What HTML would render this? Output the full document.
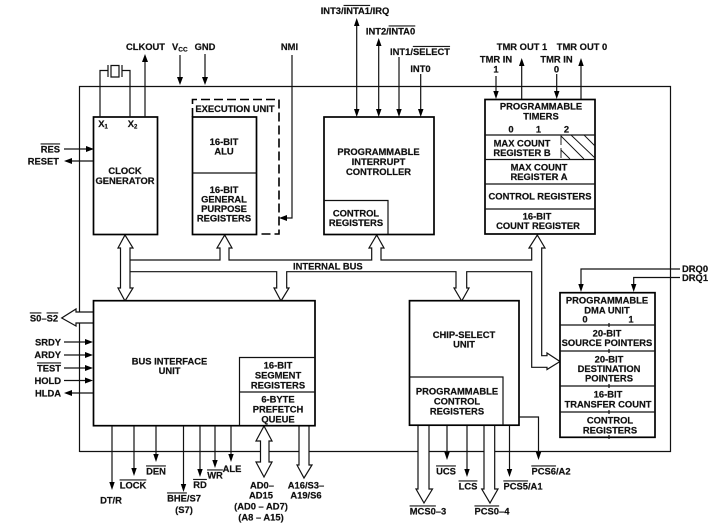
<!DOCTYPE html>
<html><head><meta charset="utf-8"><title>80186 Block Diagram</title>
<style>
html,body{margin:0;padding:0;background:#fff;width:721px;height:527px;overflow:hidden}
svg{display:block}
text{font-family:"Liberation Sans",sans-serif;font-weight:bold;font-size:9.4px;fill:#111;stroke:#111;stroke-width:.2px;text-anchor:middle}
.s{text-anchor:start}.e{text-anchor:end}
.o{text-decoration:overline}
.l{fill:none;stroke:#111;stroke-width:1.2}
.b{fill:#fff;stroke:#000;stroke-width:1.7}
.h{fill:#fff;stroke:#111;stroke-width:1.2}
.a{fill:#000;stroke:none}
</style></head><body>
<svg width="721" height="527" viewBox="0 0 721 527" xmlns="http://www.w3.org/2000/svg">
<!-- outer chip border -->
<path class="l" d="M79.5 452V86.5H670.5V451.5H79.5"/>

<!-- hollow bus arrows -->
<path class="h" d="M120.5 288V248H118L125 235L133 248H130V288H133L125 301L118 288Z"/>
<path class="l" d="M130 260H220V248H217L224.7 235L232 248H229V260H371.7V248H369L376.7 235L384 248H381V260H531.7V248H529L537.3 235L545 248H541.7V355.7H547V353L560 361.5L547 369.5V367.3H531.7V271.7H466.7V288H469L461.7 301L454 288H456V271.7H286.7V288H289L281 301L274 288H276.7V271.7H130"/>
<!-- S0-S2 -->
<path class="h" d="M93.5 312H76V309L61.7 318L76 326V323H93.5"/>
<!-- AD -->
<path class="h" d="M260.5 441H256L264 426L272 441H269V462H272L264 477L256 462H260.5Z"/>
<!-- A16 -->
<path class="h" d="M299 426V465H297L304 478L312 465H309V426"/>
<!-- MCS -->
<path class="h" d="M418 426V489H416L424 503L432.5 489H429V426"/>
<!-- PCS0-4 -->
<path class="h" d="M484 426V489H481.7L490 503L498 489H494.7V426"/>

<!-- clock generator -->
<rect class="b" x="93.5" y="117" width="64" height="117.5"/>
<!-- Execution unit -->
<path d="M192.5 117V99.5H279V234H258" fill="none" stroke="#000" stroke-width="1.6" stroke-dasharray="9 4"/>
<rect class="b" x="192.5" y="117" width="64" height="117.5"/>
<path class="l" d="M192.5 173H256.5"/>
<!-- PIC -->
<rect class="b" x="324" y="117" width="110" height="117.5"/>
<path class="l" d="M324 200.5H388V234"/>
<!-- Timers -->
<rect class="b" x="485" y="99.5" width="110" height="134.5"/>
<path class="l" d="M485 135H595M485 159.5H595M485 184H595M485 209H595"/>
<path d="M561 135V159.5" fill="none" stroke="#222" stroke-width="1" stroke-dasharray="10 3"/>
<path d="M561 136L584 159M571 135L595 158M584 135L595 146M561 150L570 159" fill="none" stroke="#111" stroke-width=".9"/>
<!-- BIU -->
<rect class="b" x="93.5" y="300.7" width="221.5" height="125"/>
<path class="l" d="M239.5 425V357.5H315M239.5 392H315"/>
<!-- Chip select -->
<rect class="b" x="409.5" y="300.7" width="109.5" height="124.5"/>
<path class="l" d="M409.5 377H503V425"/>
<!-- DMA -->
<rect class="b" x="560" y="292.7" width="95" height="144.6"/>
<path class="l" d="M560 325H655M560 351H655M560 386H655M560 412H655"/>
<path class="l" d="M609 323V327M609 349V353M609 384V388M609 410V414M609 435V439"/>

<!-- crystal -->
<path class="l" d="M100 117V70.5H108M108 65V77M111 65.5H119V77H111ZM122 65V77M122 70.5H130V117"/>
<!-- clkout -->
<path class="l" d="M145 117V58"/><path class="a" d="M145 54L142 62H148Z"/>
<path class="l" d="M180 55V80"/><path class="a" d="M180 85L177 77H183Z"/>
<path class="l" d="M205 54V80"/><path class="a" d="M205 85L202 77H208Z"/>
<!-- NMI -->
<path class="l" d="M292 55V218H285"/><path class="a" d="M279 218L287 215V221Z"/>
<!-- RES RESET -->
<path class="l" d="M64 149H88"/><path class="a" d="M94 149L86 146V152Z"/>
<path class="l" d="M93 161H70"/><path class="a" d="M64 161L72 158V164Z"/>
<!-- INT -->
<path class="l" d="M356.7 22V112"/><path class="a" d="M356.7 18L354 26H359.5ZM356.7 117L354 109H359.5Z"/>
<path class="l" d="M378.7 42V112"/><path class="a" d="M378.7 38L376 46H381.5ZM378.7 117L376 109H381.5Z"/>
<path class="l" d="M399 57V112"/><path class="a" d="M399 117L396.3 109H401.7Z"/>
<path class="l" d="M420.7 74V112"/><path class="a" d="M420.7 117L418 109H423.5Z"/>
<!-- TMR -->
<path class="l" d="M496 76V94"/><path class="a" d="M496 99L493.3 91H498.7Z"/>
<path class="l" d="M521.7 99V62"/><path class="a" d="M521.7 58L519 66H524.5Z"/>
<path class="l" d="M556.7 74V94"/><path class="a" d="M556.7 99L554 91H559.5Z"/>
<path class="l" d="M581 99V62"/><path class="a" d="M581 58L578.3 66H583.7Z"/>
<!-- DRQ -->
<path class="l" d="M680 269H581V285"/><path class="a" d="M581 292L578.3 284H583.7Z"/>
<path class="l" d="M680 277.5H633.7V285"/><path class="a" d="M633.7 292L631 284H636.4Z"/>
<!-- left pins -->
<path class="l" d="M64 342H87"/><path class="a" d="M93 342L85 339V345Z"/>
<path class="l" d="M64 355H87"/><path class="a" d="M93 355L85 352V358Z"/>
<path class="l" d="M64 368H87"/><path class="a" d="M93 368L85 365V371Z"/>
<path class="l" d="M64 380.5H87"/><path class="a" d="M93 380.5L85 377.5V383.5Z"/>
<path class="l" d="M93 393H70"/><path class="a" d="M64 393L72 390V396Z"/>
<!-- bottom pins -->
<path class="l" d="M112 426V485"/><path class="a" d="M112 490L109.3 482H114.7Z"/>
<path class="l" d="M134 426V471"/><path class="a" d="M134 476L131.3 468H136.7Z"/>
<path class="l" d="M156 426V457"/><path class="a" d="M156 462L153.3 454H158.7Z"/>
<path class="l" d="M183.5 426V487"/><path class="a" d="M183.5 492L180.8 484H186.2Z"/>
<path class="l" d="M200 426V472"/><path class="a" d="M200 477L197.3 469H202.7Z"/>
<path class="l" d="M215 426V463"/><path class="a" d="M215 468L212.3 460H217.7Z"/>
<path class="l" d="M231 426V457"/><path class="a" d="M231 462L228.3 454H233.7Z"/>
<path class="l" d="M447 426V455"/><path class="a" d="M447 460L444.3 452H449.7Z"/>
<path class="l" d="M467 426V472"/><path class="a" d="M467 477L464.3 469H469.7Z"/>
<path class="l" d="M509.5 426V472"/><path class="a" d="M509.5 477L506.8 469H512.2Z"/>
<path class="l" d="M519 417H538.5V455"/><path class="a" d="M538.5 460L535.8 452H541.2Z"/>

<!-- labels -->
<text x="145.5" y="50">CLKOUT</text>
<text class="s" x="172" y="50">V<tspan font-size="6.5" dy="1.5">CC</tspan></text>
<text x="205" y="50">GND</text>
<text x="289.5" y="50">NMI</text>
<text class="e" x="60" y="152.5"><tspan class="o">RES</tspan></text>
<text class="e" x="59" y="164.5">RESET</text>
<text x="103" y="127">X<tspan font-size="6" dy="1.5">1</tspan></text>
<text x="132.5" y="127">X<tspan font-size="6" dy="1.5">2</tspan></text>
<text x="125" y="174">CLOCK</text><text x="125" y="184">GENERATOR</text>
<text x="235" y="112">EXECUTION UNIT</text>
<text x="224" y="145">16-BIT</text><text x="224" y="154.5">ALU</text>
<text x="224" y="193">16-BIT</text><text x="224" y="202.5">GENERAL</text><text x="224" y="212">PURPOSE</text><text x="224" y="221.5">REGISTERS</text>
<text x="378.5" y="155">PROGRAMMABLE</text><text x="378.5" y="165">INTERRUPT</text><text x="378.5" y="175">CONTROLLER</text>
<text x="356" y="216.5">CONTROL</text><text x="356" y="226">REGISTERS</text>
<text x="355" y="14">INT3/<tspan class="o">INTA1</tspan>/IRQ</text>
<text x="390.5" y="34.5">INT2/<tspan class="o">INTA0</tspan></text>
<text x="420" y="55">INT1/<tspan class="o">SELECT</tspan></text>
<text x="420.5" y="72">INT0</text>
<text x="522" y="50">TMR OUT 1</text><text x="582" y="50">TMR OUT 0</text>
<text x="496" y="62.5">TMR IN</text><text x="496" y="72.5">1</text>
<text x="556.5" y="62.5">TMR IN</text><text x="556.5" y="72.5">0</text>
<text x="541" y="109.5">PROGRAMMABLE</text><text x="541" y="119.5">TIMERS</text>
<text x="511" y="132.5">0</text><text x="538.5" y="132.5">1</text><text x="566.5" y="132.5">2</text>
<text x="522" y="146.5">MAX COUNT</text><text x="522" y="156">REGISTER B</text>
<text x="539" y="170.5">MAX COUNT</text><text x="539" y="180">REGISTER A</text>
<text x="540" y="199.5">CONTROL REGISTERS</text>
<text x="537" y="219.5">16-BIT</text><text x="538" y="229">COUNT REGISTER</text>
<text class="s" x="293" y="269.5">INTERNAL  BUS</text>
<text x="44" y="321.5"><tspan class="o">S0</tspan>–<tspan class="o">S2</tspan></text>
<text class="e" x="61" y="345.5">SRDY</text><text class="e" x="61" y="358">ARDY</text>
<text class="e" x="61" y="371.5"><tspan class="o">TEST</tspan></text><text class="e" x="61" y="384">HOLD</text><text class="e" x="61" y="396.5">HLDA</text>
<text x="169.5" y="364.5">BUS INTERFACE</text><text x="169.5" y="374">UNIT</text>
<text x="278" y="368.5">16-BIT</text><text x="278" y="378.5">SEGMENT</text><text x="278" y="388.5">REGISTERS</text>
<text x="278" y="402.5">6-BYTE</text><text x="278" y="412.5">PREFETCH</text><text x="278" y="422.5">QUEUE</text>
<text x="464" y="338">CHIP-SELECT</text><text x="464" y="347.5">UNIT</text>
<text x="457" y="394.5">PROGRAMMABLE</text><text x="457" y="404.5">CONTROL</text><text x="457" y="414.5">REGISTERS</text>
<text x="607" y="303.5">PROGRAMMABLE</text><text x="607" y="313.5">DMA UNIT</text>
<text x="585" y="322.5" font-size="8">0</text><text x="631" y="322.5" font-size="8">1</text>
<text x="607" y="336.5">20-BIT</text><text x="607" y="346">SOURCE POINTERS</text>
<text x="609" y="362.5">20-BIT</text><text x="609" y="372">DESTINATION</text><text x="609" y="381.5">POINTERS</text>
<text x="608" y="397.5">16-BIT</text><text x="608" y="407.5">TRANSFER COUNT</text>
<text x="610" y="423.5">CONTROL</text><text x="610" y="433.5">REGISTERS</text>
<text class="s" x="682" y="272">DRQ0</text><text class="s" x="682" y="281">DRQ1</text>
<text x="111" y="503.5">DT/R</text>
<text x="133" y="488.5"><tspan class="o">LOCK</tspan></text>
<text x="156" y="474.5"><tspan class="o">DEN</tspan></text>
<text x="184" y="501.5"><tspan class="o">BHE</tspan>/S7</text><text x="184" y="513">(S7)</text>
<text x="200" y="488"><tspan class="o">RD</tspan></text>
<text x="215" y="478.5"><tspan class="o">WR</tspan></text>
<text x="232" y="472">ALE</text>
<text x="262" y="488.5">AD0–</text><text x="261" y="498.5">AD15</text>
<text x="261" y="509.5">(AD0 – AD7)</text><text x="261" y="520.5">(A8 – A15)</text>
<text x="306" y="488.5">A16/S3–</text><text x="306" y="498.5">A19/S6</text>
<text x="428" y="514.5"><tspan class="o">MCS0</tspan>–3</text>
<text x="446" y="474.5"><tspan class="o">UCS</tspan></text>
<text x="468" y="489.5"><tspan class="o">LCS</tspan></text>
<text x="492" y="514.5"><tspan class="o">PCS0</tspan>–4</text>
<text x="523" y="489.5"><tspan class="o">PCS5</tspan>/A1</text>
<text x="551" y="474.5"><tspan class="o">PCS6</tspan>/A2</text>
</svg>
</body></html>
